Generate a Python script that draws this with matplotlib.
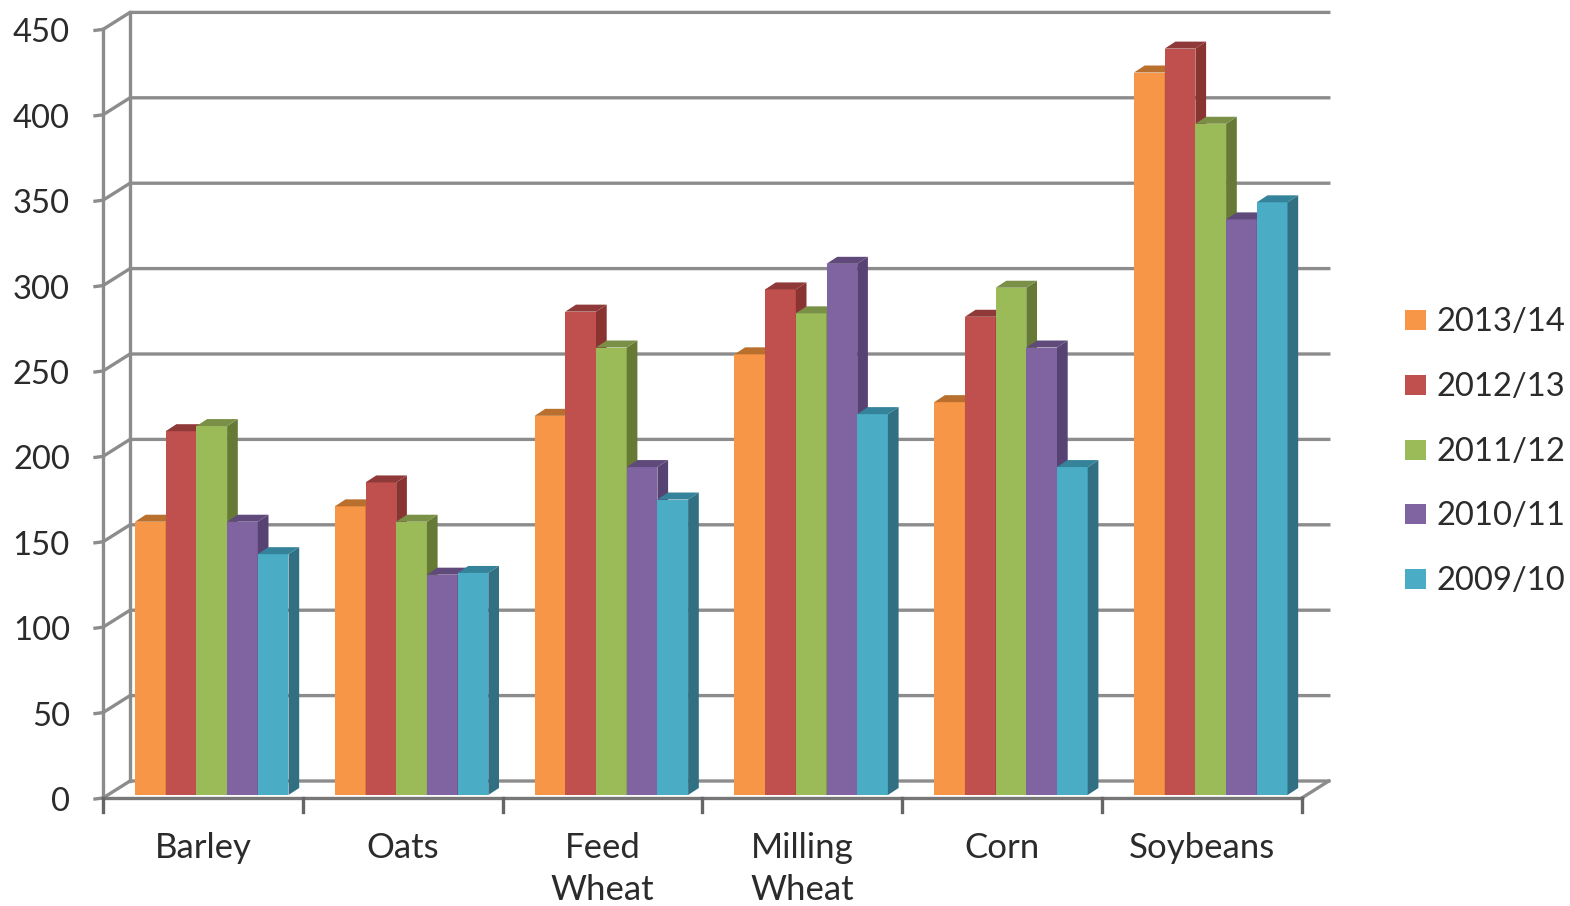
import numpy as np
import matplotlib.pyplot as plt
from matplotlib.patches import Polygon

categories = ["Barley", "Oats", "Feed\nWheat", "Milling\nWheat", "Corn", "Soybeans"]
seasons = ["2013/14", "2012/13", "2011/12", "2010/11", "2009/10"]

v_1314 = [160, 169, 222, 258, 230, 423]
v_1213 = [213, 183, 283, 296, 280, 437]
v_1112 = [216, 160, 262, 282, 297, 393]
v_1011 = [160, 129, 192, 311, 262, 337]
v_0910 = [141, 130, 173, 223, 192, 347]
series = [v_1314, v_1213, v_1112, v_1011, v_0910]
yticks = [0, 50, 100, 150, 200, 250, 300, 350, 400, 450]

front = ["#f79646", "#c0504d", "#9bbb59", "#8064a2", "#4bacc6"]
side = ["#b56a2c", "#8a3432", "#667a35", "#574373", "#316f82"]
top = ["#b9702f", "#8f3a38", "#7a9046", "#604a7c", "#35839a"]

W, H = 1570, 906
x0_px, y0_px = 103, 798      # front corner of the axis
pxx = 199.8                  # px per category
pxy = 85.4 / 50              # px per value

fig = plt.figure(figsize=(W / 100, H / 100), dpi=100)
ax = fig.add_axes([0, 0, 1, 1])
ax.set_xlim(-x0_px / pxx, (W - x0_px) / pxx)
ax.set_ylim((y0_px - H) / pxy, y0_px / pxy)
ax.axis("off")

plt.rcParams["font.family"] = ["Lato", "DejaVu Sans"]
txt = "#2b2b2b"
fs = 23.6
axc = "#8c8c8c"

# depth of the back wall, in data units
dx = 27 / pxx
dy = 17 / pxy
n = len(categories)

for t in yticks:
    ax.plot([0, dx, n + dx], [t, t + dy, t + dy], color=axc, lw=2.4, zorder=1)
    ax.plot([-8 / pxx, 0], [t - 1 / pxy, t], color=axc, lw=2.4, zorder=1)
    ax.text(-33 / pxx, t - 4 / pxy, str(t), ha="right", va="center", fontsize=fs, color=txt)
ax.plot([0, 0], [0, 450], color=axc, lw=2.4, zorder=1)
ax.plot([dx, dx], [dy, 450 + dy], color=axc, lw=2.4, zorder=1)
ax.plot([0, n], [0, 0], color="#777777", lw=2.4, zorder=5)
ax.plot([n, n + dx], [0, dy], color=axc, lw=2.4, zorder=1)

for i in range(n + 1):
    ax.plot([i, i], [0, -14 / pxy], color="#666666", lw=2.4, zorder=5)
for i, c in enumerate(categories):
    ax.text(i + 0.5, -34 / pxy, c, ha="center", va="top", fontsize=25, color=txt, linespacing=1.4)

# bars with fake 3d faces
bw = 30.7 / pxx
start = 32 / pxx
base = 3 / pxy
ddx = 10.7 / pxx
ddy = 7 / pxy
for j, vals in enumerate(series):
    for i, v in enumerate(vals):
        xl = i + start + j * bw
        xr = xl + bw
        z = 10 + j
        ax.bar(xl, v, bw, bottom=base, align="edge", color=front[j], zorder=z)
        ax.add_patch(Polygon([(xr, base), (xr + ddx, base + ddy), (xr + ddx, base + v + ddy), (xr, base + v)],
                             color=side[j], lw=0, zorder=z))
        ax.add_patch(Polygon([(xl, base + v), (xl + ddx, base + v + ddy), (xr + ddx, base + v + ddy), (xr, base + v)],
                             color=top[j], lw=0, zorder=z))

# legend
leg_y = [320, 385, 450, 514, 579]
for s, c, yp in zip(seasons, front, leg_y):
    yd = (y0_px - yp) / pxy
    xd = (1405 - x0_px) / pxx
    ax.add_patch(Polygon([(xd, yd - 10 / pxy), (xd + 21 / pxx, yd - 10 / pxy),
                          (xd + 21 / pxx, yd + 10 / pxy), (xd, yd + 10 / pxy)], color=c, lw=0))
    ax.text((1436 - x0_px) / pxx, yd - 2 / pxy, s, ha="left", va="center", fontsize=fs, color=txt)

fig.savefig("out.png", dpi=100)
